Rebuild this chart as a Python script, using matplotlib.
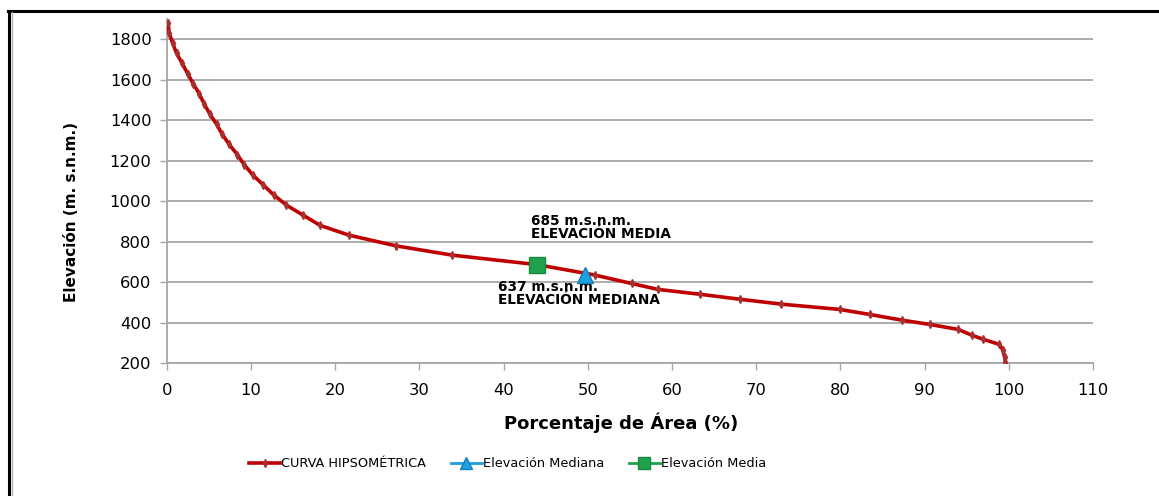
"""Curva hipsométrica con elevación media y mediana."""
import matplotlib
matplotlib.use('Agg')
import matplotlib.pyplot as plt
from matplotlib.lines import Line2D

plt.rcParams['font.family'] = 'DejaVu Sans'

# Datos
area_pct = [0.15, 0.27, 0.68, 1.15, 1.82, 2.46, 3.12, 3.84, 4.43, 5.1, 5.9, 6.57,
            7.4, 8.35, 9.18, 10.18, 11.44, 12.7, 14.2, 16.2, 18.2, 21.6, 27.2,
            33.9, 44.0, 50.8, 55.2, 58.3, 63.3, 68.1, 73.0, 79.9, 83.5, 87.3,
            90.6, 94.0, 95.6, 97.0, 98.9, 99.3, 99.5, 99.6]
elevacion = [1880, 1830, 1780, 1730, 1680, 1630, 1580, 1530, 1480, 1430, 1380, 1330,
             1280, 1230, 1180, 1130, 1080, 1030, 980, 930, 880, 832, 779,
             733, 686, 635, 593, 564, 540, 515, 491, 465, 440, 412,
             391, 366, 338, 317, 292, 264, 231, 206]

mediana_x, mediana_y = [49.7], [637]
media_x, media_y = [44.0], [685]

x_ticks = list(range(0, 111, 10))
y_ticks = list(range(200, 1801, 200))

RED = '#C00000'
BLUE = '#1E9FDF'
GREEN = '#1FA24A'
GRID = '#A6A6A6'

fig = plt.figure(figsize=(11.59, 4.96), dpi=100)
ax = fig.add_axes([0.144, 0.268, 0.799, 0.694])

ax.plot(area_pct, elevacion, color=RED, lw=2.6, marker='d', ms=4,
        mfc='#A83030', mec='#A83030', label='CURVA HIPSOMÉTRICA', zorder=3)
ax.plot(media_x, media_y, ls='none', marker='s', ms=11, mfc=GREEN,
        mec='#168A3C', zorder=4)
ax.plot(mediana_x, mediana_y, ls='none', marker='^', ms=11, mfc=BLUE,
        mec='#1580BA', zorder=4)

ax.text(43.3, 871, '685 m.s.n.m.\nELEVACIÓN MEDIA', fontsize=9.8,
        fontweight='bold', ha='left', va='center', linespacing=0.9)
ax.text(39.3, 545, '637 m.s.n.m.\nELEVACIÓN MEDIANA', fontsize=9.8,
        fontweight='bold', ha='left', va='center', linespacing=0.9)

ax.set_xlim(0, 110)
ax.set_ylim(200, 1900)
ax.set_xticks(x_ticks)
ax.set_yticks(y_ticks)
ax.tick_params(axis='both', labelsize=11.8, color=GRID, length=5, width=1,
               direction='out')
ax.tick_params(axis='x', pad=9)
ax.tick_params(axis='y', pad=6)
ax.grid(axis='y', color=GRID, lw=1.3)
ax.set_axisbelow(True)
for s in ['top', 'right']:
    ax.spines[s].set_visible(False)
for s in ['left', 'bottom']:
    ax.spines[s].set_color(GRID)
    ax.spines[s].set_linewidth(1.3)

ax.set_xlabel('Porcentaje de Área (%)', fontsize=13, fontweight='bold', va='center')
ax.xaxis.set_label_coords(0.49, -0.174)
ax.set_ylabel('Elevación (m. s.n.m.)', fontsize=11, fontweight='bold', va='center')
ax.yaxis.set_label_coords(-0.103, 0.44)

handles = [
    Line2D([], [], color=RED, lw=2.6, marker='d', ms=4, mfc='#A83030', mec='#A83030'),
    Line2D([], [], color=BLUE, lw=2, marker='^', ms=8, mfc=BLUE, mec='#1580BA'),
    Line2D([], [], color=GREEN, lw=2, marker='s', ms=8, mfc=GREEN, mec='#168A3C'),
]
labels = ['CURVA HIPSOMÉTRICA', 'Elevación Mediana', 'Elevación Media']
fig.legend(handles, labels, loc='center', bbox_to_anchor=(0.438, 0.065), ncol=3,
           frameon=False, fontsize=9.3, handlelength=2.4, handletextpad=0.1,
           columnspacing=1.9)

# marco del gráfico
fig.add_artist(Line2D([0.007, 1.0], [0.978, 0.978], color='black', lw=2.2,
                      transform=fig.transFigure))
fig.add_artist(Line2D([0.008, 0.008], [0.0, 0.978], color='black', lw=2.2,
                      transform=fig.transFigure))
fig.add_artist(Line2D([0.0105, 0.0105], [0.0, 0.975], color='#B0B0B0', lw=1,
                      transform=fig.transFigure))

fig.savefig('out.png', dpi=100)
